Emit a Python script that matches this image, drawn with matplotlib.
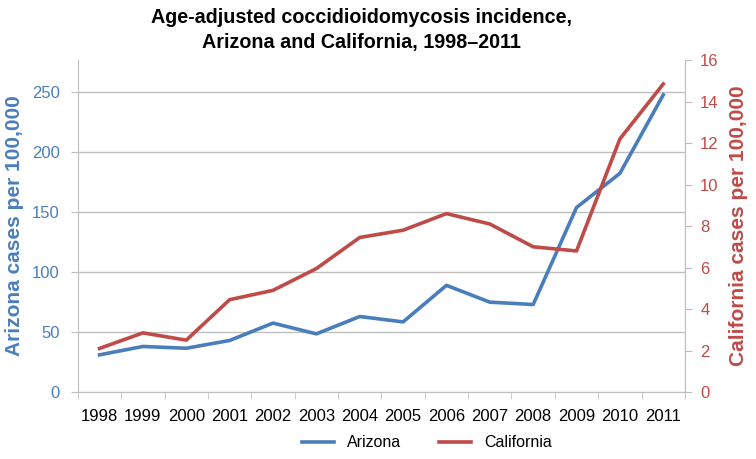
import matplotlib.pyplot as plt
from matplotlib.lines import Line2D

plt.rcParams['font.family'] = ['Liberation Sans', 'DejaVu Sans']

years = ['1998', '1999', '2000', '2001', '2002', '2003', '2004',
         '2005', '2006', '2007', '2008', '2009', '2010', '2011']
arizona = [31, 38, 36.5, 43, 57.5, 48.5, 63, 58.5, 89, 75, 73, 154, 182.5, 248]
california = [2.1, 2.85, 2.5, 4.45, 4.9, 5.95, 7.45, 7.8, 8.6, 8.1, 7.0, 6.8, 12.2, 14.85]

blue = '#4A7EBB'
red = '#BE4B48'
grey = '#BFBFBF'

fig = plt.figure(figsize=(7.56, 4.59), dpi=100)
ax = fig.add_axes([0.103, 0.146, 0.803, 0.723])
ax2 = ax.twinx()

x = list(range(len(years)))
ax.plot(x, arizona, color=blue, lw=2.6, solid_joinstyle='round', zorder=3)
ax2.plot(x, california, color=red, lw=2.6, solid_joinstyle='round', zorder=3)

ax.set_xlim(-0.5, len(years) - 0.5)
ax.set_ylim(0, 277)
ax2.set_ylim(0, 16)
ax.set_yticks(range(0, 251, 50))
ax2.set_yticks(range(0, 17, 2))
ax.grid(axis='y', color=grey, lw=1)
ax.set_axisbelow(True)

# category labels at centres, tick marks on the boundaries
ax.set_xticks(x)
ax.set_xticklabels(years, fontsize=12, color='black')
ax.tick_params(axis='x', length=0, pad=12)
ax.set_xticks([i - 0.5 for i in range(len(years) + 1)], minor=True)
ax.tick_params(axis='x', which='minor', length=5, color=grey, direction='out')

ax.tick_params(axis='y', colors=blue, labelsize=12, length=5, color=grey, pad=8)
ax2.tick_params(axis='y', colors=red, labelsize=12, length=5, color=grey, pad=6)
for lab in ax.get_yticklabels():
    lab.set_color(blue)
for lab in ax2.get_yticklabels():
    lab.set_color(red)

for a in (ax, ax2):
    a.spines['top'].set_visible(False)
    for s in ('left', 'right', 'bottom'):
        a.spines[s].set_color(grey)
ax2.spines['left'].set_visible(False)
ax2.spines['bottom'].set_visible(False)

ax.set_ylabel('Arizona cases per 100,000', color=blue, fontsize=15,
              fontweight='bold', labelpad=6)
ax2.set_ylabel('California cases per 100,000', color=red, fontsize=15,
               fontweight='bold', labelpad=7)

fig.suptitle('Age-adjusted coccidioidomycosis incidence,\nArizona and California, 1998\u20132011',
             fontsize=14.2, fontweight='bold', x=0.478, y=0.982, linespacing=1.35)

handles = [Line2D([0], [0], color=blue, lw=2.6), Line2D([0], [0], color=red, lw=2.6)]
fig.legend(handles, ['Arizona', 'California'], loc='lower center',
           bbox_to_anchor=(0.565, -0.012), ncol=2, frameon=False, fontsize=11.5,
           handlelength=2.0, columnspacing=2.4)

fig.savefig('out.png', dpi=100)
